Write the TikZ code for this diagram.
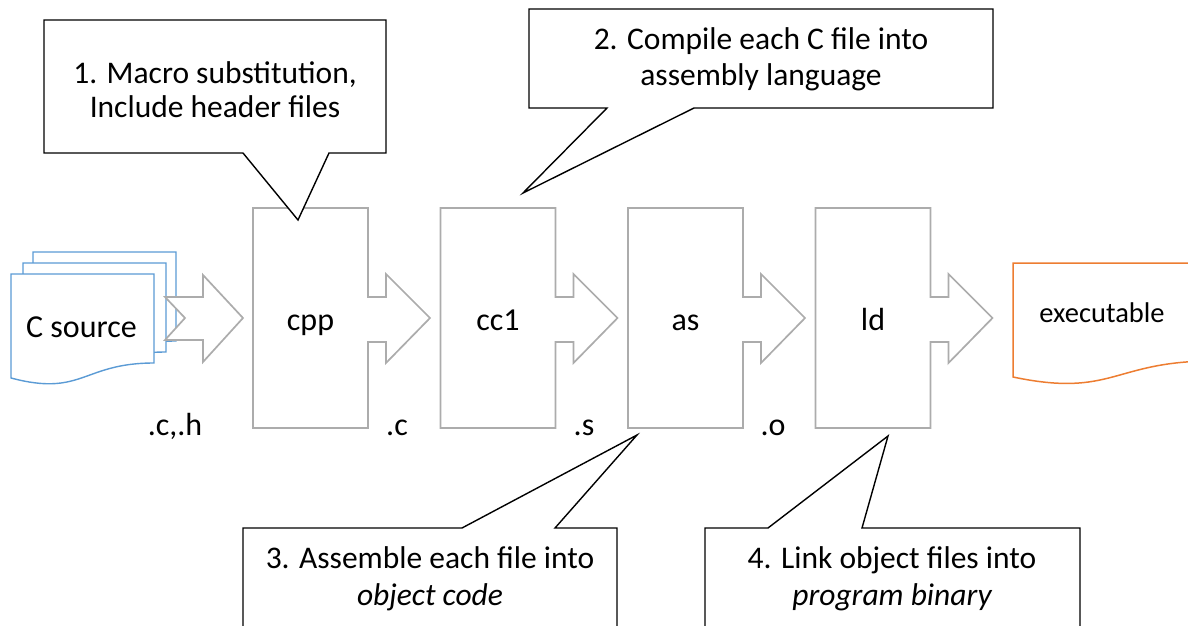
\documentclass[tikz,border=0pt]{standalone}
\usepackage{fontspec}
\setmainfont{Carlito}
\definecolor{blockgray}{RGB}{172,172,172}
\definecolor{srcblue}{RGB}{91,155,213}
\definecolor{exeorange}{RGB}{237,125,49}
\begin{document}
\begin{tikzpicture}[x=1pt,y=-1pt,
  stage/.style={draw=blockgray, line width=1.7pt, fill=white, line join=miter},
  doc/.style={draw=srcblue, line width=1.4pt, fill=white},
  exedoc/.style={draw=exeorange, line width=1.5pt, fill=white},
  callout/.style={draw=black, line width=1.4pt, fill=white, line join=miter},
  lbl/.style={inner sep=0pt, anchor=base, font=\fontsize{32}{38}\selectfont},
  small/.style={inner sep=0pt, anchor=base, font=\fontsize{28.5}{34}\selectfont},
  note/.style={inner sep=0pt, anchor=base, font=\fontsize{31.5}{38}\selectfont}]
\useasboundingbox (0,0) rectangle (1188,626);
\clip (0,0) rectangle (1188,626);

% stack of C source documents (back to front)
\foreach \dx/\dy in {22/-22, 12/-11} {
  \draw[doc] (11+\dx,274+\dy) -- ++(143,0) -- ++(0,89)
    .. controls ++(-71.5,0) and (82.5+\dx,397+\dy) .. (11+\dx,378+\dy) -- cycle;
}
% notched input arrow
\draw[stage] (165,297) -- (203,297) -- (203,275) -- (243,318) -- (203,362)
  -- (203,340) -- (165,340) -- (185,318) -- cycle;
\draw[doc] (11,274) -- (154,274) -- (154,363)
  .. controls (82.5,363) and (82.5,397) .. (11,378) -- cycle;
\node[lbl] (src) at (81.5,337) {C source};
\node[lbl] (exth) at (175,435) {.c,.h};

% the four tool stages, each with an outgoing arrow
\foreach \x/\name in {253/cpp, 440.5/cc1, 628/as, 815.5/ld} {
  \draw[stage] (\x,208) -- ++(115,0) -- ++(0,89) -- ++(18,0) -- ++(0,-23)
    -- ++(44,44) -- ++(-44,45) -- ++(0,-21) -- ++(-18,0) -- ++(0,86)
    -- ++(-115,0) -- cycle;
  \node[lbl] (\name) at (\x+57.5,330) {\name};
}
\node[lbl] (extc) at (397,435) {.c};
\node[lbl] (exts) at (584,435) {.s};
\node[lbl] (exto) at (773,435) {.o};

% executable output document
\draw[exedoc] (1013,263) -- (1213,263) -- (1213,361)
  .. controls (1113,361) and (1113,398) .. (1013,377) -- cycle;
\node[small] (exe) at (1102,322) {executable};

% callouts
\draw[callout] (44,20) -- (386,20) -- (386,153) -- (329,153) -- (298,220)
  -- (243,153) -- (44,153) -- cycle;
\node[note] (n1a) at (215,83) {1. Macro substitution,};
\node[note] (n1b) at (215,117) {Include header files};

\draw[callout] (529,9) -- (993,9) -- (993,108) -- (694,108) -- (523,193)
  -- (607,108) -- (529,108) -- cycle;
\node[note] (n2a) at (761,50) {2. Compile each C file into};
\node[note] (n2b) at (761,85) {assembly language};

\draw[callout] (243,528) -- (462,528) -- (637,435) -- (555,528) -- (617,528)
  -- (617,660) -- (243,660) -- cycle;
\node[note] (n3a) at (430,568) {3. Assemble each file into};
\node[note] (n3b) at (430,605) {\itshape object code};

\draw[callout] (705,528) -- (768,528) -- (888,436) -- (862,528) -- (1080,528)
  -- (1080,660) -- (705,660) -- cycle;
\node[note] (n4a) at (892,568) {4. Link object files into};
\node[note] (n4b) at (892,605) {\itshape program binary};
\end{tikzpicture}
\end{document}
